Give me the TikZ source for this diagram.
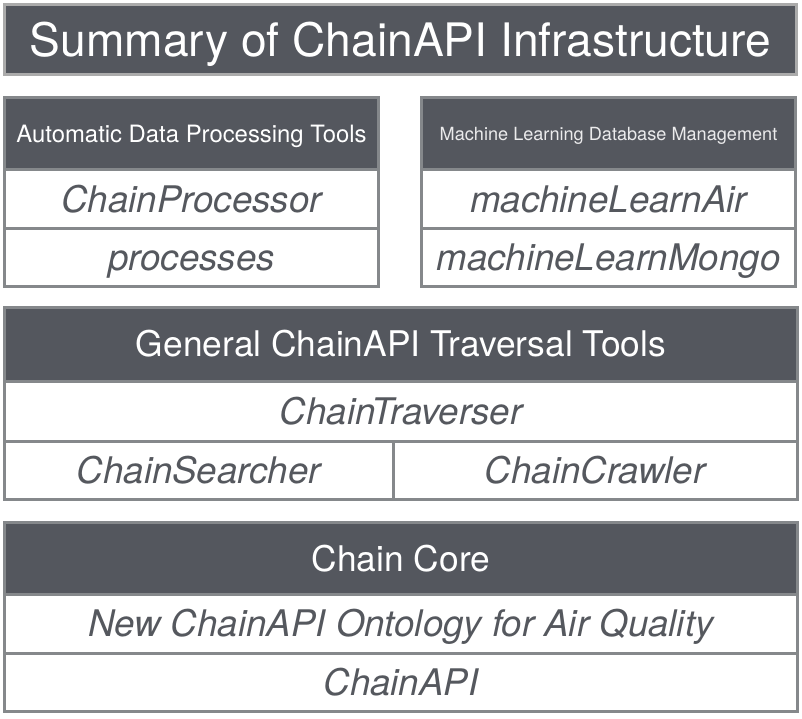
\documentclass[tikz,border=0pt]{standalone}
\usepackage{fontspec}
\setmainfont{TeX Gyre Heros}
\definecolor{slate}{HTML}{54575E}
\definecolor{rim}{HTML}{85888B}
\definecolor{titlerim}{HTML}{ABABAB}
\definecolor{itemtext}{HTML}{55585E}
\tikzset{cellsize/.style 2 args={minimum width=#1*0.75pt, minimum height=#2*0.75pt}}
\tikzset{fontpt/.style={font=\fontsize{#1}{#1}\selectfont, text height=0.72*#1 pt}}
\begin{document}
\begin{tikzpicture}[x=0.75pt,y=-0.75pt]
    \tikzstyle{cell}=[draw=rim, line width=2.25pt, inner sep=0pt, outer sep=0pt, anchor=north west, text depth=0pt]
    \tikzstyle{head}=[cell, fill=slate, text=white, fontpt=26.5]
    \tikzstyle{item}=[cell, fill=white, text=itemtext, fontpt=27.5, font=\fontsize{27.5}{30}\selectfont\itshape]

    \useasboundingbox (0,0) rectangle (802,718);

    % title bar
    \node[head, draw=titlerim, cellsize={792}{70}, fontpt=34.6] at (4.5,4.5) (title) {Summary of ChainAPI Infrastructure};

    % processing tools
    \node[head, cellsize={374}{72}, fontpt=17.9] at (4.5,97.5) (prochead) {Automatic Data Processing Tools};
    \node[item, cellsize={374}{59}] at (4.5,169.5) (processor) {ChainProcessor};
    \node[item, cellsize={374}{57.5}] at (4.5,228.5) (processes) {processes};

    % machine learning
    \node[head, cellsize={374}{72}, fontpt=13.6, text=white!88!slate] at (421.5,97.5) (mlhead) {Machine Learning Database Management};
    \node[item, cellsize={374}{59}] at (421.5,169.5) (learnair) {machineLearnAir};
    \node[item, cellsize={374}{57.5}] at (421.5,228.5) (learnmongo) {machineLearnMongo};

    % traversal tools
    \node[head, cellsize={793}{73.5}] at (4.5,307.5) (travhead) {General ChainAPI Traversal Tools};
    \node[item, cellsize={793}{60}] at (4.5,381) (traverser) {ChainTraverser};
    \node[item, cellsize={388.5}{58.5}] at (4.5,441) (searcher) {ChainSearcher};
    \node[item, cellsize={404.5}{58.5}] at (393,441) (crawler) {ChainCrawler};

    % core
    \node[head, cellsize={793}{72}] at (4.5,522.5) (corehead) {Chain Core};
    \node[item, cellsize={793}{58.5}] at (4.5,594.5) (ontology) {New ChainAPI Ontology for Air Quality};
    \node[item, cellsize={793}{58.5}] at (4.5,653) (chainapi) {ChainAPI};
\end{tikzpicture}
\end{document}
